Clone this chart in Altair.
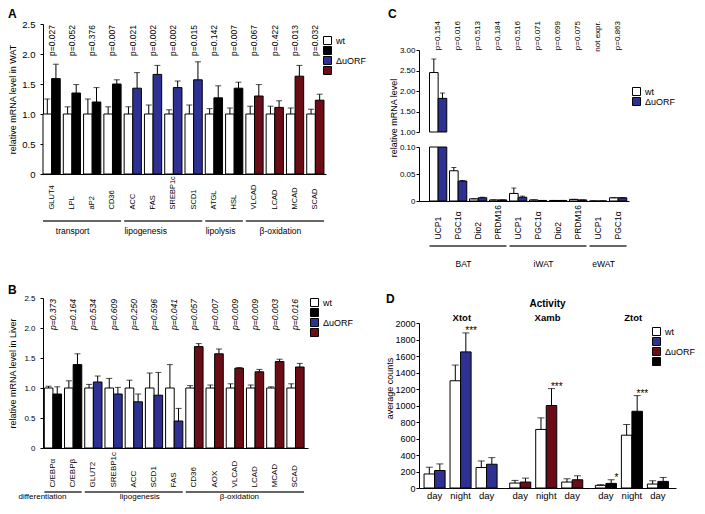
import altair as alt
import pandas as pd

FONT = "Liberation Sans"
BLUE = "#2e3192"
RED = "#6b0d17"
COL = {"k": "#000000", "b": BLUE, "r": RED}
GENO = ["wt", "ΔuORF"]

# ---------------- Panel A (WAT) ----------------
A_genes = ["GLUT4", "LPL", "aP2", "CD36", "ACC", "FAS", "SREBP1c", "SCD1",
           "ATGL", "HSL", "VLCAD", "LCAD", "MCAD", "SCAD"]
A_wt = [1.0, 1.0, 1.0, 1.0, 1.0, 1.0, 1.0, 1.0, 1.0, 1.0, 1.0, 1.0, 1.0, 1.0]
A_wt_err = [0.25, 0.12, 0.25, 0.12, 0.12, 0.15, 0.07, 0.15, 0.09, 0.10, 0.13, 0.13, 0.10, 0.08]
A_ko = [1.59, 1.35, 1.20, 1.50, 1.43, 1.66, 1.44, 1.57, 1.27, 1.43, 1.30, 1.11, 1.63, 1.23]
A_ko_err = [0.24, 0.14, 0.24, 0.07, 0.26, 0.15, 0.11, 0.30, 0.20, 0.10, 0.19, 0.11, 0.18, 0.10]
A_ko_col = ["k", "k", "k", "k", "b", "b", "b", "b", "k", "k", "r", "r", "r", "r"]
A_p = ["p=0.027", "p=0.052", "p=0.376", "p=0.007", "p=0.021", "p=0.002", "p=0.002",
       "p=0.015", "p=0.142", "p=0.007", "p=0.067", "p=0.422", "p=0.013", "p=0.032"]
A_groups = ["transport", "lipogenesis", "lipolysis", "β-oxidation"]
A_group_n = [4, 4, 2, 4]
A_yticks = [0, 0.5, 1.0, 1.5, 2.0, 2.5]

# ---------------- Panel B (Liver) ----------------
B_genes = ["C/EBPα", "C/EBPβ", "GLUT2", "SREBP1c", "ACC", "SCD1", "FAS",
           "CD36", "AOX", "VLCAD", "LCAD", "MCAD", "SCAD"]
B_wt = [1.0, 1.0, 1.0, 1.0, 1.0, 1.0, 1.0, 1.0, 1.0, 1.0, 1.0, 1.0, 1.0]
B_wt_err = [0.03, 0.12, 0.06, 0.16, 0.13, 0.25, 0.39, 0.04, 0.05, 0.07, 0.05, 0.02, 0.07]
B_ko = [0.90, 1.39, 1.10, 0.90, 0.77, 0.88, 0.45, 1.69, 1.57, 1.33, 1.27, 1.44, 1.35]
B_ko_err = [0.12, 0.18, 0.10, 0.11, 0.13, 0.38, 0.21, 0.05, 0.08, 0.01, 0.04, 0.04, 0.06]
B_ko_col = ["k", "k", "b", "b", "b", "b", "b", "r", "r", "r", "r", "r", "r"]
B_p = ["p=0.373", "p=0.164", "p=0.534", "p=0.609", "p=0.250", "p=0.596", "p=0.041",
       "p=0.057", "p=0.007", "p=0.009", "p=0.009", "p=0.003", "p=0.016"]
B_groups = ["differentiation", "lipogenesis", "β-oxidation"]
B_group_n = [2, 5, 6]

# ---------------- Panel C (thermogenic genes) ----------------
C_cats = ["UCP1|BAT", "PGC1α|BAT", "Dio2|BAT", "PRDM16|BAT",
          "UCP1|iWAT", "PGC1α|iWAT", "Dio2|iWAT", "PRDM16|iWAT",
          "UCP1|eWAT", "PGC1α|eWAT"]
C_wt = [2.45, 0.056, 0.004, 0.002, 0.014, 0.002, 0.001, 0.003, 0.0, 0.006]
C_wt_err = [0.33, 0.006, 0.0, 0.0, 0.010, 0.0, 0.0, 0.0, 0.0, 0.0]
C_ko = [1.82, 0.037, 0.006, 0.002, 0.007, 0.001, 0.001, 0.002, 0.0, 0.006]
C_ko_err = [0.13, 0.001, 0.001, 0.0, 0.002, 0.0, 0.0, 0.0, 0.0, 0.0]
C_ko_col = ["b"] * 10
C_p = ["p=0.154", "p=0.016", "p=0.513", "p=0.184", "p=0.516", "p=0.071",
       "p=0.699", "p=0.075", "not expr.", "p=0.863"]
C_groups = ["BAT", "iWAT", "eWAT"]
C_group_n = [4, 4, 2]

# ---------------- Panel D (activity) ----------------
D_panels = ["Xtot", "Xamb", "Ztot"]
D_times = ["day1", "night", "day2"]
D_wt = [[170, 1300, 248], [60, 710, 72], [32, 640, 48]]
D_wt_err = [[82, 190, 80], [32, 140, 40], [8, 130, 40]]
D_ko = [[212, 1650, 288], [72, 1000, 100], [56, 930, 80]]
D_ko_err = [[80, 230, 80], [48, 205, 48], [44, 190, 48]]
D_ko_col = ["b", "r", "k"]
D_stars = [["", "***", ""], ["", "***", ""], ["*", "***", ""]]


def long_df(cats, wt, wte, ko, koe, kocol):
    rows = []
    for c, a, ae, b, be, col in zip(cats, wt, wte, ko, koe, kocol):
        rows.append({"cat": c, "geno": "wt", "val": a, "top": a + ae, "key": "wt"})
        rows.append({"cat": c, "geno": "ΔuORF", "val": b, "top": b + be, "key": "Δ" + col})
    return pd.DataFrame(rows)


def fill_scale(order):
    return alt.Scale(domain=["wt"] + ["Δ" + c for c in order],
                     range=["#ffffff"] + [COL[c] for c in order])


def legend(x, y, label_key):
    return alt.Legend(orient="none", legendX=x, legendY=y, title=None,
                      symbolType="square", symbolSize=64, symbolStrokeColor="black",
                      symbolStrokeWidth=1, labelFontSize=9, labelFont=FONT,
                      labelColor="black", rowPadding=0, clipHeight=9, labelOffset=4,
                      padding=0,
                      labelExpr=("datum.value == 'wt' ? 'wt' : (datum.value == '%s' ? 'ΔuORF' : '')" % label_key))


def x_offset():
    return alt.XOffset("geno:N", sort=GENO,
                       scale=alt.Scale(domain=GENO, paddingInner=0, paddingOuter=0))


def bar_layers(df, xkw, yscale, yaxis, fscale, leg, cap=5, bar_filter=None,
               err_filter=None, base_field=False, err_axis=None):
    bchart = alt.Chart(df)
    if bar_filter:
        bchart = bchart.transform_filter(bar_filter)
    enc = dict(x=alt.X("cat:N", **xkw), xOffset=x_offset(),
               y=alt.Y("val:Q", scale=yscale, axis=yaxis),
               fill=alt.Fill("key:N", scale=fscale, legend=leg))
    if base_field:
        bchart = bchart.transform_calculate(base="1")
        enc["y2"] = "base:Q"
    bars = bchart.mark_bar(stroke="black", strokeWidth=1).encode(**enc)
    echart = alt.Chart(df)
    if err_filter:
        echart = echart.transform_filter(err_filter)
    err = echart.mark_rule(color="black", strokeWidth=1).encode(
        x=alt.X("cat:N", **xkw), xOffset=x_offset(),
        y=alt.Y("val:Q", scale=yscale, axis=err_axis), y2="top:Q")
    caps = echart.mark_tick(color="black", thickness=1, size=cap).encode(
        x=alt.X("cat:N", **xkw), xOffset=x_offset(),
        y=alt.Y("top:Q", scale=yscale, axis=err_axis))
    return [bars, err, caps]


def p_layer(cats, pvals, xkw, y, size, italic=False):
    pdf = pd.DataFrame({"cat": cats, "p": pvals})
    return alt.Chart(pdf).mark_text(angle=270, align="right", baseline="middle",
                                    fontSize=size, font=FONT, color="black",
                                    fontStyle="italic" if italic else "normal").encode(
        x=alt.X("cat:N", **xkw), y=alt.value(y), text="p:N")


def group_layers(cats, groups, ns, xkw, y_line, y_text, size, dxs):
    layers = []
    i = 0
    for g, n, dx in zip(groups, ns, dxs):
        gdf = pd.DataFrame({"first": [cats[i]], "last": [cats[i + n - 1]],
                            "mid": [cats[i + (n - 1) // 2]], "label": [g]})
        line = alt.Chart(gdf).mark_rule(color="#333333", strokeWidth=1.6).encode(
            x=alt.X("first:N", bandPosition=0, **xkw),
            x2=alt.X2("last:N", bandPosition=1),
            y=alt.value(y_line))
        bp = 0.5 if n % 2 == 1 else 1.0
        txt = alt.Chart(gdf).mark_text(fontSize=size, font=FONT, color="black",
                                       baseline="middle", align="center", dx=dx).encode(
            x=alt.X("mid:N", bandPosition=bp, **xkw), y=alt.value(y_text), text="label:N")
        layers += [line, txt]
        i += n
    return layers


def letter(t, x, y):
    return alt.Chart(pd.DataFrame({"t": [t]})).mark_text(
        align="left", baseline="top", fontSize=12, fontWeight="bold", font=FONT,
        color="black").encode(text="t:N", x=alt.value(x), y=alt.value(y))


def label_text(t, x, y, size=9, bold=False, angle=0):
    return alt.Chart(pd.DataFrame({"t": [t]})).mark_text(
        align="center", baseline="middle", fontSize=size, angle=angle,
        fontWeight="bold" if bold else "normal", font=FONT, color="black").encode(
        text="t:N", x=alt.value(x), y=alt.value(y))


def gene_axis(pad, size, expr=None):
    kw = dict(title=None, labelAngle=270, labelAlign="left", labelBaseline="middle",
              labelPadding=pad, ticks=False, tickSize=0, labelFontSize=size,
              labelColor="black", domainColor="black", orient="bottom")
    if expr:
        kw["labelExpr"] = expr
    return alt.Axis(**kw)


def mrna_yaxis(title, size):
    return alt.Axis(values=A_yticks, title=title, titleFontSize=9, titleX=-26,
                    labelExpr="datum.value == 0 ? '0' : format(datum.value, '.1f')",
                    tickSize=3, labelPadding=5, labelFontSize=size)


# ---------- A ----------
A_W, A_H = 283, 150
A_x = dict(sort=A_genes, title=None,
           scale=alt.Scale(domain=A_genes, paddingInner=0.15, paddingOuter=0.05, align=0),
           axis=gene_axis(35, 7.5))
A_y = alt.Scale(domain=[0, 2.5], nice=False)
A_df = long_df(A_genes, A_wt, A_wt_err, A_ko, A_ko_err, A_ko_col)
A_yaxis = mrna_yaxis("relative mRNA level in WAT", 9.5)
A_chart = alt.layer(
    *bar_layers(A_df, A_x, A_y, A_yaxis, fill_scale(["k", "b", "r"]),
                legend(280, 12, "Δb"), cap=6, err_axis=A_yaxis),
    p_layer(A_genes, A_p, A_x, 1, 8.5),
    *group_layers(A_genes, A_groups, A_group_n, A_x, A_H + 47, A_H + 57, 8.5,
                  [-8, -16, -2, -3]),
    letter("A", -35, -15),
).properties(width=A_W, height=A_H)

# ---------- B ----------
B_W, B_H = 265, 150
B_x = dict(sort=B_genes, title=None,
           scale=alt.Scale(domain=B_genes, paddingInner=0.15, paddingOuter=0.13, align=0.25),
           axis=gene_axis(39, 8))
B_df = long_df(B_genes, B_wt, B_wt_err, B_ko, B_ko_err, B_ko_col)
B_yaxis = mrna_yaxis("relative mRNA level in Liver", 8)
B_chart = alt.layer(
    *bar_layers(B_df, B_x, A_y, B_yaxis, fill_scale(["k", "b", "r"]),
                legend(267, 0, "Δb"), cap=6, err_axis=B_yaxis),
    p_layer(B_genes, B_p, B_x, 1, 8.5, italic=True),
    *group_layers(B_genes, B_groups, B_group_n, B_x, B_H + 44, B_H + 49, 8,
                  [-19, 6, -4]),
    letter("B", -35, -13),
).properties(width=B_W, height=B_H)

# ---------- C (broken y axis: two y scales in one layer) ----------
C_W, C_H = 210, 177
C_df = long_df(C_cats, C_wt, C_wt_err, C_ko, C_ko_err, C_ko_col)
C_x = dict(sort=C_cats, title=None,
           scale=alt.Scale(domain=C_cats, paddingInner=0.15, paddingOuter=0.325, align=0.81),
           axis=gene_axis(38, 8.5, "split(datum.label, '|')[0]"))
C_top_y = alt.Scale(domain=[1, 3], range=[108, 26], nice=False, zero=False, clamp=True)
C_bot_y = alt.Scale(domain=[0, 0.1], range=[C_H, 123], nice=False, zero=False, clamp=True)
C_top_axis = alt.Axis(orient="left", values=[1, 1.5, 2, 2.5, 3], format=".2f", title=None,
                      tickSize=3, labelPadding=1, labelFontSize=8)
C_bot_axis = alt.Axis(orient="left", values=[0, 0.05, 0.1], title=None, tickSize=3,
                      labelPadding=1, labelFontSize=8,
                      labelExpr="datum.value == 0 ? '0' : format(datum.value, '.2f')")
C_fill = fill_scale(["b"])
C_leg = legend(213, 63, "Δb")
C_chart = alt.layer(
    *bar_layers(C_df, C_x, C_top_y, C_top_axis, C_fill, C_leg, cap=5,
                bar_filter="datum.val > 1", err_filter="datum.top > 1", base_field=True),
    *bar_layers(C_df, C_x, C_bot_y, C_bot_axis, C_fill, C_leg, cap=5,
                err_filter="datum.top <= 0.1"),
    p_layer(C_cats, C_p, C_x, -3, 8),
    *group_layers(C_cats, C_groups, C_group_n, C_x, C_H + 45, C_H + 63, 8.5, [-3, -3, -3]),
    label_text("relative mRNA level", -25, 94, size=9, angle=270),
    letter("C", -31, -15),
).resolve_scale(y="independent").properties(width=C_W, height=C_H)

# ---------- D (three sub-panels sharing one y scale) ----------
D_W, D_H, D_TOP = 257, 190, 25
D_sub = D_W / 3
D_y = alt.Scale(domain=[0, 2000], range=[D_H, D_TOP], nice=False)
D_yaxis = alt.Axis(orient="left", values=list(range(0, 2001, 200)), format="d",
                   title="average counts", titleFontSize=9, titleX=-25, titleY=90,
                   tickSize=3, labelPadding=1, labelFontSize=9)
D_fill = fill_scale(["b", "r", "k"])
D_leg = legend(233, 29, "Δr")
D_layers = []
for k, name in enumerate(D_panels):
    df = long_df(D_times, D_wt[k], D_wt_err[k], D_ko[k], D_ko_err[k], [D_ko_col[k]] * 3)
    sc = alt.Scale(domain=D_times, range=[k * D_sub, (k + 1) * D_sub],
                   paddingInner=0.19, paddingOuter=0.243, align=0.4)
    xaxis = alt.Axis(orient="bottom", title=None, labelAngle=0, ticks=False, tickSize=0,
                     labelPadding=2, labelFontSize=9.5, labelColor="black",
                     labelExpr="datum.value == 'night' ? 'night' : 'day'")
    xkw_axis = dict(sort=D_times, title=None, scale=sc, axis=xaxis)
    xkw = dict(sort=D_times, title=None, scale=sc, axis=None)
    base = alt.Chart(df)
    bars = base.mark_bar(stroke="black", strokeWidth=1).encode(
        x=alt.X("cat:N", **xkw_axis), xOffset=x_offset(),
        y=alt.Y("val:Q", scale=D_y, axis=D_yaxis),
        fill=alt.Fill("key:N", scale=D_fill, legend=D_leg))
    err = base.mark_rule(color="black", strokeWidth=1).encode(
        x=alt.X("cat:N", **xkw), xOffset=x_offset(),
        y=alt.Y("val:Q", scale=D_y, axis=D_yaxis), y2="top:Q")
    caps = base.mark_tick(color="black", thickness=1, size=7).encode(
        x=alt.X("cat:N", **xkw), xOffset=x_offset(),
        y=alt.Y("top:Q", scale=D_y, axis=D_yaxis))
    sdf = pd.DataFrame({"cat": D_times, "geno": ["ΔuORF"] * 3, "star": D_stars[k],
                        "top": [v + e for v, e in zip(D_ko[k], D_ko_err[k])]})
    stars = alt.Chart(sdf).mark_text(fontSize=10, font=FONT, color="black",
                                     baseline="alphabetic", dy=1).encode(
        x=alt.X("cat:N", **xkw), xOffset=x_offset(),
        y=alt.Y("top:Q", scale=D_y, axis=D_yaxis), text="star:N")
    D_layers += [bars, err, caps, stars,
                 label_text(name, (k + 0.5) * D_sub, D_TOP - 5, size=9.5, bold=True)]
D_layers.append(label_text("Activity", 1.5 * D_sub, D_TOP - 19, size=10, bold=True))
D_layers.append(letter("D", -33, D_TOP - 29))
D_chart = alt.layer(*D_layers).resolve_scale(
    x="independent", xOffset="independent"
).properties(width=D_W, height=D_H)

chart = alt.concat(
    A_chart, C_chart, B_chart, D_chart, columns=2,
    spacing={"row": 97, "column": 93}, bounds="flush", align="each"
).resolve_scale(fill="independent").properties(
    padding={"left": 0, "top": 0, "right": 0, "bottom": 0}
).configure_view(stroke=None).configure_axis(
    labelFont=FONT, titleFont=FONT, labelColor="black", titleColor="black",
    domainColor="black", tickColor="black", domainWidth=1, tickWidth=1, grid=False,
    titleFontWeight="normal"
)

chart.save("out.html", embed_options={"renderer": "svg", "actions": False})
